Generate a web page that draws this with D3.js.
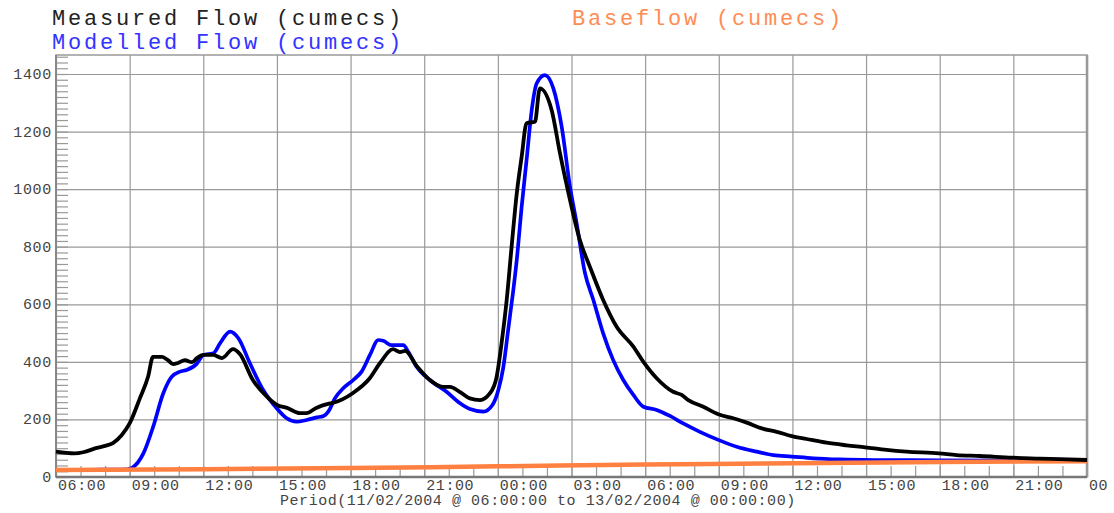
<!DOCTYPE html>
<html>
<head>
    <meta charset="utf-8">
    <style>
        body { margin: 0; background: #fff; }
        text { font-family: "Liberation Mono", "Courier New", monospace; }
    </style>
</head>
<body>
    <script src="https://cdn.jsdelivr.net/npm/d3@7"></script>
    <script>
        // hours after 11/02/2004 06:00, flows in cumecs
        var measuredHours = [0, 0.75, 1.11, 1.66, 2.0, 2.32, 2.68, 3.01, 3.42, 3.75, 3.95, 4.32, 4.56, 4.77, 4.97, 5.25, 5.54, 5.74, 5.99, 6.4, 6.76, 7.21, 7.49, 8.02, 8.6, 9.0, 9.41, 9.94, 10.2, 10.6, 11.08, 11.3, 12.1, 12.79, 13.2, 13.73, 14.01, 14.22, 14.7, 15.23, 15.76, 16.05, 16.46, 16.86, 17.27, 17.68, 17.95, 18.15, 18.36, 18.56, 18.77, 18.97, 19.17, 19.51, 19.71, 20.19, 20.53, 20.94, 21.34, 21.75, 22.29, 22.84, 23.52, 23.93, 24.47, 25.14, 25.49, 25.76, 26.37, 26.98, 27.59, 28.14, 28.75, 29.36, 29.97, 30.58, 31.39, 32.21, 32.97, 33.84, 34.65, 35.97, 36.69, 37.64, 38.95, 40.08, 42];
        var measuredFlow = [88, 82, 86, 101, 108, 118, 146, 188, 274, 348, 417, 417, 406, 392, 396, 406, 399, 413, 424, 424, 413, 444, 427, 337, 278, 250, 240, 222, 222, 240, 254, 258, 292, 344, 396, 444, 434, 438, 385, 337, 313, 313, 295, 273, 267, 291, 348, 464, 615, 800, 985, 1113, 1229, 1234, 1350, 1275, 1125, 962, 823, 730, 615, 522, 453, 400, 343, 296, 285, 267, 244, 218, 204, 189, 169, 157, 142, 132, 119, 110, 103, 94, 88, 82, 76, 73, 67, 64, 59];

        var modelledHours = [0, 1.5, 2.9, 3.1, 3.56, 3.96, 4.37, 4.71, 5.05, 5.32, 5.73, 6.0, 6.41, 6.68, 7.09, 7.43, 7.9, 8.44, 8.99, 9.4, 9.8, 10.21, 10.62, 10.9, 11.1, 11.36, 11.7, 12.11, 12.45, 12.79, 13.13, 13.33, 13.67, 14.15, 14.35, 14.69, 15.23, 15.91, 16.46, 16.86, 17.41, 17.78, 18.02, 18.22, 18.42, 18.63, 18.77, 18.97, 19.17, 19.38, 19.58, 19.92, 20.26, 20.6, 20.94, 21.21, 21.55, 21.89, 22.29, 22.7, 23.11, 23.52, 23.93, 24.47, 25.01, 25.55, 26.23, 26.98, 27.73, 28.54, 29.22, 29.97, 30.85, 31.93, 33.29, 36.01, 38.72, 42];
        var modelledFlow = [24, 25, 27, 32, 82, 175, 291, 348, 366, 372, 393, 424, 430, 464, 505, 482, 395, 302, 239, 204, 192, 198, 207, 212, 228, 273, 308, 337, 366, 424, 476, 473, 458, 458, 435, 383, 337, 296, 256, 236, 227, 250, 302, 380, 511, 650, 754, 939, 1101, 1275, 1367, 1396, 1350, 1217, 1008, 881, 708, 615, 499, 406, 337, 285, 244, 233, 212, 186, 157, 129, 105, 88, 76, 71, 65, 61, 59, 58, 57, 56];

        var baseHours = [0, 6, 12, 18, 24, 30, 36, 42];
        var baseFlow = [24, 27, 31, 37, 43, 48, 52, 55];

        var yTickValues = [0, 200, 400, 600, 800, 1000, 1200, 1400];
        var legendLabels = ["Measured Flow (cumecs)", "Modelled Flow (cumecs)", "Baseflow (cumecs)"];
        var axisTitle = "Period(11/02/2004 @ 06:00:00 to 13/02/2004 @ 00:00:00)";

        var startTime = Date.UTC(2004, 1, 11, 6, 0, 0);
        var endTime = Date.UTC(2004, 1, 13, 0, 0, 0);
        function toDate(h) { return new Date(startTime + h * 3600000); }

        var margin = { left: 56, top: 55, right: 27, bottom: 36 };
        var totalWidth = 1114, totalHeight = 513;
        var graphWidth = totalWidth - margin.left - margin.right;
        var graphHeight = totalHeight - margin.top - margin.bottom;
        var plotLeft = margin.left, plotRight = margin.left + graphWidth;
        var plotTop = margin.top, plotBottom = margin.top + graphHeight;

        var xScale = d3.scaleUtc()
            .domain([new Date(startTime), new Date(endTime)])
            .range([plotLeft, plotRight]);
        var yScale = d3.scaleLinear()
            .domain([0, 1466])
            .range([plotBottom, plotTop]);

        var svg = d3.select("body").append('svg')
            .attr('width', totalWidth)
            .attr('height', totalHeight);

        // grid lines
        var xGrid = svg.append('g')
            .attr('transform', 'translate(0,' + plotBottom + ')')
            .call(d3.axisBottom(xScale).ticks(d3.utcHour.every(3)).tickSize(-graphHeight).tickFormat(''));
        var yGrid = svg.append('g')
            .attr('transform', 'translate(' + plotLeft + ',0)')
            .call(d3.axisLeft(yScale).tickValues(yTickValues.slice(1)).tickSize(-graphWidth).tickFormat(''));

        // minor ticks
        var xMinor = svg.append('g')
            .attr('transform', 'translate(0,' + plotBottom + ')')
            .call(d3.axisBottom(xScale).ticks(d3.utcHour.every(1)).tickSize(-11).tickFormat(''));
        var yMinor = svg.append('g')
            .attr('transform', 'translate(' + plotLeft + ',0)')
            .call(d3.axisLeft(yScale).tickValues(d3.range(0, 1466, 20)).tickSize(-12).tickFormat(''));

        [xGrid, yGrid, xMinor, yMinor].forEach(function (g) {
            g.select('.domain').remove();
            g.selectAll('.tick line').attr('stroke', '#999').attr('stroke-width', 1.2);
        });

        // frame
        svg.append('rect')
            .attr('x', plotLeft).attr('y', plotTop)
            .attr('width', graphWidth).attr('height', graphHeight)
            .attr('fill', 'none').attr('stroke', '#999').attr('stroke-width', 1.5);
        svg.append('line')
            .attr('x1', plotLeft).attr('x2', plotLeft)
            .attr('y1', plotTop).attr('y2', plotBottom)
            .attr('stroke', '#888').attr('stroke-width', 2);
        svg.append('line')
            .attr('x1', plotRight).attr('x2', plotRight)
            .attr('y1', plotTop).attr('y2', plotBottom)
            .attr('stroke', '#999').attr('stroke-width', 2.5);

        // series
        function series(hours, values) {
            return hours.map(function (h, i) { return { t: toDate(h), v: values[i] }; });
        }
        var line = d3.line()
            .x(function (d) { return xScale(d.t); })
            .y(function (d) { return yScale(d.v); })
            .curve(d3.curveMonotoneX);

        svg.append('path').datum(series(modelledHours, modelledFlow))
            .attr('d', line).attr('fill', 'none')
            .attr('stroke', '#0000ff').attr('stroke-width', 3.7).attr('stroke-linejoin', 'round');
        svg.append('path').datum(series(baseHours, baseFlow))
            .attr('d', line).attr('fill', 'none')
            .attr('stroke', '#ff8040').attr('stroke-width', 4.5);
        svg.append('path').datum(series(measuredHours, measuredFlow))
            .attr('d', line).attr('fill', 'none')
            .attr('stroke', '#000').attr('stroke-width', 3.8).attr('stroke-linejoin', 'round');

        // bottom axis line
        svg.append('line')
            .attr('x1', plotLeft).attr('x2', plotRight)
            .attr('y1', plotBottom).attr('y2', plotBottom)
            .attr('stroke', '#777').attr('stroke-width', 2.5);

        // y labels
        svg.append('g').selectAll('text')
            .data(yTickValues)
            .enter().append('text')
            .attr('x', plotLeft - 4)
            .attr('y', function (d) { return yScale(d) + 5; })
            .attr('text-anchor', 'end')
            .attr('font-size', 15)
            .attr('letter-spacing', 0.7)
            .attr('fill', '#444')
            .text(function (d) { return d; });

        // x labels, clipped at the right like the original
        svg.append('clipPath').attr('id', 'xclip')
            .append('rect').attr('x', 0).attr('y', 0).attr('width', 1107).attr('height', totalHeight);
        svg.append('g').attr('clip-path', 'url(#xclip)')
            .selectAll('text')
            .data(xScale.ticks(d3.utcHour.every(3)))
            .enter().append('text')
            .attr('x', function (d) { return xScale(d) + 2; })
            .attr('y', 490)
            .attr('font-size', 15)
            .attr('letter-spacing', 0.6)
            .attr('fill', '#444')
            .text(d3.utcFormat('%H:%M'));

        svg.append('text')
            .attr('x', 280).attr('y', 505)
            .attr('font-size', 15)
            .attr('letter-spacing', 0.55)
            .attr('fill', '#444')
            .text(axisTitle);

        // legend
        var legendColors = ['#222', '#3333ff', '#ff8c55'];
        var legendPos = [[52, 25], [52, 49], [572, 25]];
        svg.append('g').selectAll('text')
            .data(legendLabels)
            .enter().append('text')
            .attr('x', function (d, i) { return legendPos[i][0]; })
            .attr('y', function (d, i) { return legendPos[i][1]; })
            .attr('font-size', 22)
            .attr('letter-spacing', 2.8)
            .attr('fill', function (d, i) { return legendColors[i]; })
            .text(function (d) { return d; });
    </script>
</body>
</html>
